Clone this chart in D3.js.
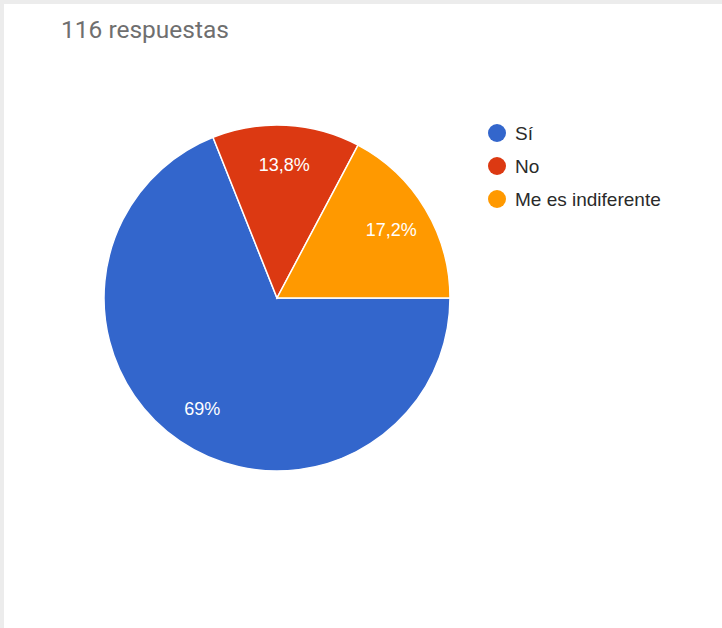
<!DOCTYPE html>
<html>
<head>
<meta charset="utf-8">
<script src="https://cdn.jsdelivr.net/npm/d3@7"></script>
<style>
  html, body { margin: 0; padding: 0; background: #fff; }
  svg { display: block; }
</style>
</head>
<body>
<svg id="chart" width="722" height="628"></svg>
<script>
// Survey answers
const categories = ["Sí", "No", "Me es indiferente"];
const counts = [80, 16, 20];
const percentLabels = ["69%", "13,8%", "17,2%"];
const colors = ["#3366cc", "#dc3912", "#ff9900"];
const totalLabel = "116 respuestas";

const svg = d3.select("#chart");
const W = 722, H = 628;

// card edge shading
svg.append("rect").attr("x", 0).attr("y", 0).attr("width", W).attr("height", H).attr("fill", "#ececec");
svg.append("rect").attr("x", 4).attr("y", 4).attr("width", W - 4).attr("height", H - 4).attr("fill", "#ffffff");

svg.append("text")
  .attr("x", 61).attr("y", 38)
  .attr("font-family", "Roboto, Arial, sans-serif")
  .attr("font-size", 24.5)
  .attr("fill", "#6f6f6f")
  .text(totalLabel);

const cx = 277, cy = 298, r = 173;
const g = svg.append("g").attr("transform", `translate(${cx},${cy})`);

const pie = d3.pie().sort(null).value(d => d)
  .startAngle(Math.PI / 2).endAngle(Math.PI / 2 + 2 * Math.PI);
const arcs = pie(counts);
const arc = d3.arc().innerRadius(0).outerRadius(r);

g.selectAll("path.slice").data(arcs).enter().append("path")
  .attr("class", "slice")
  .attr("d", arc)
  .attr("fill", (d, i) => colors[i])
  .attr("stroke", "#ffffff")
  .attr("stroke-width", 1.5);

const labelArc = d3.arc().innerRadius(r * 0.77).outerRadius(r * 0.77);
g.selectAll("text.pct").data(arcs).enter().append("text")
  .attr("class", "pct")
  .attr("transform", d => `translate(${labelArc.centroid(d)})`)
  .attr("text-anchor", "middle")
  .attr("dy", "0.35em")
  .attr("font-family", "Arial, 'Liberation Sans', sans-serif")
  .attr("font-size", 18)
  .attr("fill", "#ffffff")
  .text((d, i) => percentLabels[i]);

// legend
const legend = svg.append("g").attr("transform", "translate(497,133)");
const items = legend.selectAll("g").data(categories).enter().append("g")
  .attr("transform", (d, i) => `translate(0,${i * 33})`);
items.append("circle").attr("r", 9).attr("fill", (d, i) => colors[i]);
items.append("text")
  .attr("x", 18).attr("dy", "0.35em")
  .attr("font-family", "Arial, 'Liberation Sans', sans-serif")
  .attr("font-size", 19)
  .attr("fill", "#2a2a2a")
  .text(d => d);
</script>
</body>
</html>
